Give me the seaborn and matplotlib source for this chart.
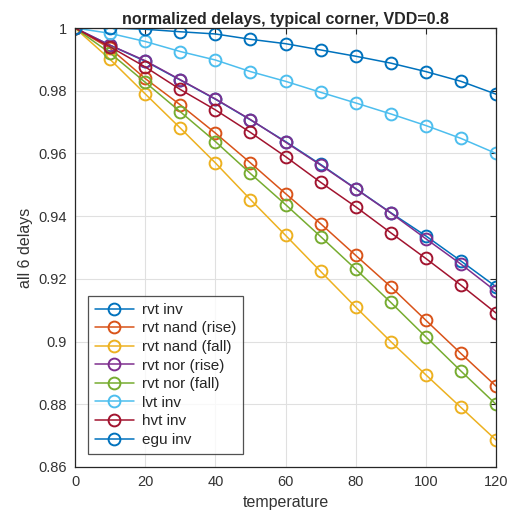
import matplotlib
matplotlib.use("Agg")
import matplotlib.pyplot as plt
import seaborn as sns
import pandas as pd
from matplotlib.ticker import FuncFormatter

temperature = [0, 10, 20, 30, 40, 50, 60, 70, 80, 90, 100, 110, 120]

rvt_inv       = [1.0, 0.9945, 0.9894, 0.9834, 0.9773, 0.9707, 0.9638, 0.9565, 0.9488, 0.9411, 0.9337, 0.9257, 0.9175]
rvt_nand_rise = [1.0, 0.9935, 0.9839, 0.9755, 0.9665, 0.9570, 0.9472, 0.9376, 0.9275, 0.9175, 0.9068, 0.8962, 0.8858]
rvt_nand_fall = [1.0, 0.9900, 0.9790, 0.9681, 0.9570, 0.9453, 0.9339, 0.9224, 0.9110, 0.9000, 0.8894, 0.8790, 0.8686]
rvt_nor_rise  = [1.0, 0.9945, 0.9896, 0.9835, 0.9774, 0.9708, 0.9636, 0.9563, 0.9487, 0.9410, 0.9328, 0.9247, 0.9160]
rvt_nor_fall  = [1.0, 0.9920, 0.9827, 0.9733, 0.9638, 0.9536, 0.9437, 0.9335, 0.9231, 0.9125, 0.9015, 0.8906, 0.8800]
lvt_inv       = [1.0, 0.9983, 0.9957, 0.9925, 0.9898, 0.9861, 0.9830, 0.9795, 0.9761, 0.9726, 0.9689, 0.9648, 0.9600]
hvt_inv       = [1.0, 0.9940, 0.9876, 0.9804, 0.9739, 0.9667, 0.9590, 0.9508, 0.9430, 0.9347, 0.9265, 0.9180, 0.9091]
egu_inv       = [1.0, 1.0000, 0.9996, 0.9988, 0.9981, 0.9964, 0.9950, 0.9930, 0.9910, 0.9888, 0.9861, 0.9830, 0.9789]

labels = ["rvt inv", "rvt nand (rise)", "rvt nand (fall)", "rvt nor (rise)",
          "rvt nor (fall)", "lvt inv", "hvt inv", "egu inv"]
series = [rvt_inv, rvt_nand_rise, rvt_nand_fall, rvt_nor_rise,
          rvt_nor_fall, lvt_inv, hvt_inv, egu_inv]
colors = ["#0072BD", "#D95319", "#EDB120", "#7E2F8E",
          "#77AC30", "#4DBEEE", "#A2142F", "#0072BD"]

rows = []
for lab, vals in zip(labels, series):
    for t, v in zip(temperature, vals):
        rows.append({"temperature": t, "delay": v, "series": lab})
df = pd.DataFrame(rows)

sns.set_style("white")
plt.rcParams['font.family'] = ['Liberation Sans', 'DejaVu Sans']

fig = plt.figure(figsize=(5.09, 5.21), dpi=100)
ax = fig.add_axes([75/509, 1 - 467/521, (496-75)/509, (467-28)/521])

for lab, c in zip(labels, colors):
    sub = df[df["series"] == lab]
    sns.lineplot(data=sub, x="temperature", y="delay", ax=ax, color=c,
                 marker="o", markersize=8.5, markerfacecolor="none",
                 markeredgecolor=c, markeredgewidth=1.4, linewidth=1.1,
                 label=lab)

ax.set_xlim(0, 120)
ax.set_ylim(0.86, 1.0)
ax.set_xticks(range(0, 121, 20))
ax.set_yticks([0.86, 0.88, 0.9, 0.92, 0.94, 0.96, 0.98, 1.0])
ax.yaxis.set_major_formatter(FuncFormatter(lambda v, p: f"{v:g}"))
ax.grid(True, color="#e0e0e0", linewidth=0.8)
ax.set_axisbelow(True)
for s in ax.spines.values():
    s.set_color("#262626")
    s.set_linewidth(0.9)
ax.tick_params(direction="in", length=4, width=0.8, colors="#262626",
               labelsize=10.5, top=True, right=True, pad=6)
for lbl in ax.get_xticklabels() + ax.get_yticklabels():
    lbl.set_color("#333333")

ax.set_xlabel("temperature", fontsize=11.5, color="#333333")
ax.set_ylabel("all 6 delays", fontsize=11.5, color="#333333")
ax.set_title("normalized delays, typical corner, VDD=0.8",
             fontsize=11.5, fontweight="bold", pad=3)

leg = ax.legend(loc="lower left", bbox_to_anchor=(0.03, 0.03), fontsize=11,
                frameon=True, fancybox=False, edgecolor="#262626",
                handlelength=2.6, borderpad=0.45, labelspacing=0.3,
                handletextpad=0.5, borderaxespad=0)
leg.get_frame().set_linewidth(0.9)

fig.savefig("out.png", dpi=100)
